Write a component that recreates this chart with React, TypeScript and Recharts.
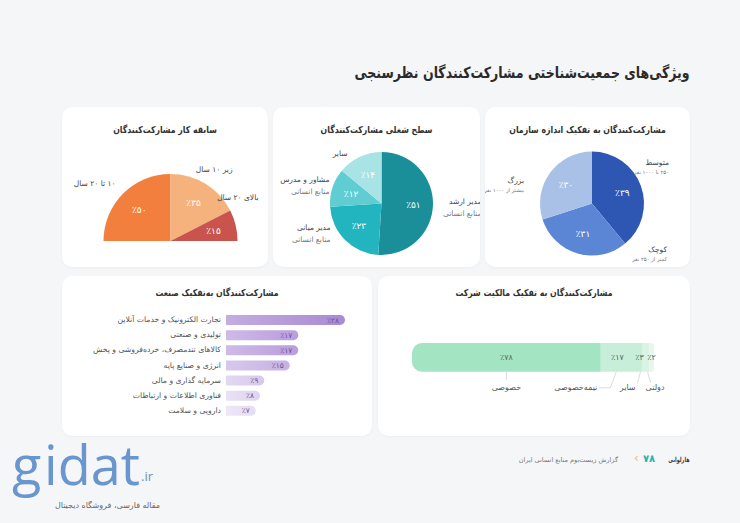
import { PieChart, Pie, Cell, BarChart, Bar, XAxis, YAxis, LabelList } from 'recharts';

const FONT = '"DejaVu Sans", sans-serif';

// سابقه کار
const experienceNames = [['۱۰ تا ۲۰ سال'], ['زیر ۱۰ سال'], ['بالای ۲۰ سال']];
const experienceValues = [50, 35, 15];
const experienceColors = ['#f27f3d', '#f5b27c', '#c9534d'];

// سطح شغلی
const levelNames = [['مدیر ارشد', 'منابع انسانی'], ['مدیر میانی', 'منابع انسانی'], ['مشاور و مدرس', 'منابع انسانی'], ['سایر']];
const levelValues = [51, 23, 12, 14];
const levelColors = ['#1a8f99', '#22b5bf', '#5fcdd1', '#a8e3e5'];

// اندازه سازمان
const sizeNames = [['متوسط', '۲۵۰ تا ۱۰۰۰ نفر'], ['کوچک', 'کمتر از ۲۵۰ نفر'], ['بزرگ', 'بیشتر از ۱۰۰۰ نفر']];
const sizeValues = [39, 31, 30];
const sizeColors = ['#2e56b3', '#5b86d6', '#a9c1e7'];

// صنعت
const industryNames = [
  'تجارت الکترونیک و خدمات آنلاین',
  'تولیدی و صنعتی',
  'کالاهای تندمصرف، خرده‌فروشی و پخش',
  'انرژی و صنایع پایه',
  'سرمایه گذاری و مالی',
  'فناوری اطلاعات و ارتباطات',
  'دارویی و سلامت',
];
const industryValues = [28, 17, 17, 15, 9, 8, 7];
const industryColors = ['#a98ad3', '#b99ddd', '#b99ddd', '#c6b0e4', '#d7c8ed', '#dfd4f0', '#e5ddf3'];

// مالکیت
const ownershipNames = ['خصوصی', 'نیمه‌خصوصی', 'سایر', 'دولتی'];
const ownershipValues = [78, 17, 3, 2];
const ownershipColors = ['#a3e4c3', '#c7eed9', '#d9f4e5', '#e6f7ee'];

const fa = (n: number) => String(n).replace(/\d/g, (d) => '۰۱۲۳۴۵۶۷۸۹'[Number(d)]);
const pct = (n: number) => '٪' + fa(n);
const RAD = Math.PI / 180;

// label layout (offsets from pie centre to the right edge of the RTL text)
const experienceLabelPos: [number, number][] = [[-55, -58], [62, -72], [88, -44]];
const levelLabelPos: [number, number][] = [[100, -2], [-51, 24], [-52, -24], [-34, -50]];
const sizeLabelPos: [number, number][] = [[77, -41], [75, 46], [-68, -23]];

function makePieLabel(names: string[][], pos: [number, number][], sizes: number[], gap: number, ratio: number) {
  return (p: any) => {
    const { cx, cy, midAngle, outerRadius, index, value } = p;
    const r = outerRadius * ratio;
    const px = cx + r * Math.cos(-midAngle * RAD);
    const py = cy + r * Math.sin(-midAngle * RAD);
    const [ox, oy] = pos[index];
    return (
      <g>
        <text x={px} y={py} textAnchor="middle" dominantBaseline="central" fill="#fff" fontSize={9} fontFamily={FONT}>
          {pct(value)}
        </text>
        {names[index].map((t, k) => (
          <text
            key={k}
            x={cx + ox}
            y={cy + oy + k * gap}
            direction="rtl"
            textAnchor="start"
            dominantBaseline="central"
            fill={k === 0 ? '#444' : '#777'}
            fontSize={sizes[k]}
            fontFamily={FONT}
          >
            {t}
          </text>
        ))}
      </g>
    );
  };
}

const card = (left: number, top: number, width: number, height: number): React.CSSProperties => ({
  position: 'absolute',
  left,
  top,
  width,
  height,
  background: '#fff',
  borderRadius: 10,
  boxShadow: '0 1px 3px rgba(0,0,0,0.04)',
});

function CardTitle({ text, top }: { text: string; top: number }) {
  return (
    <div
      style={{
        position: 'absolute',
        left: 0,
        right: 0,
        top,
        textAlign: 'center',
        direction: 'rtl',
        fontSize: 9.5,
        fontWeight: 'bold',
        color: '#333',
        lineHeight: '14px',
        transform: 'scaleX(0.82)',
        transformOrigin: 'center center',
        zIndex: 2,
      }}
    >
      {text}
    </div>
  );
}

// ownership label layout, relative to segment centre
const ownershipLayout = [
  { pctDx: 0, line: [[0, 0], [0, 8]], nameDx: 0, side: 'middle' },
  { pctDx: -4, line: [[-5, 0], [-11, 16], [-22, 16]], nameDx: -24, side: 'right' },
  { pctDx: -6, line: [[-5, 0], [-8, 11]], nameDx: -10, side: 'right' },
  { pctDx: 0, line: [[-4, 0], [-1, 11]], nameDx: -6, side: 'left' },
];

function ownershipLabel(i: number) {
  return (p: any) => {
    const { x, y, width, height, value } = p;
    const c = x + width / 2;
    const lay = ownershipLayout[i];
    const bottom = y + height;
    const pts = lay.line.map(([dx, dy]) => `${c + dx},${bottom + dy}`).join(' ');
    const anchor = lay.side === 'middle' ? 'middle' : lay.side === 'right' ? 'start' : 'end';
    return (
      <g>
        <text x={c + lay.pctDx} y={y + height / 2} textAnchor="middle" dominantBaseline="central" fill="#4f6b5e" fontSize={8} fontFamily={FONT}>
          {pct(value)}
        </text>
        <polyline points={pts} fill="none" stroke="#d2d2d2" strokeWidth={0.8} />
        <text x={c + lay.nameDx} y={bottom + 16} direction="rtl" textAnchor={anchor} dominantBaseline="central" fill="#555" fontSize={8} fontFamily={FONT}>
          {ownershipNames[i]}
        </text>
      </g>
    );
  };
}

function IndustryTick(props: any) {
  const { x, y, payload } = props;
  return (
    <text x={x} y={y} direction="rtl" textAnchor="start" dominantBaseline="central" fill="#555" fontSize={7.7} fontFamily={FONT}>
      {payload.value}
    </text>
  );
}

function IndustryValue(props: any) {
  const { x, y, width, height, value } = props;
  return (
    <text x={x + width - 6} y={y + height / 2} textAnchor="end" dominantBaseline="central" fill="#6b5599" fontSize={7.5} fontFamily={FONT}>
      {pct(value)}
    </text>
  );
}

export default function App() {
  const experienceData = experienceNames.map((n, i) => ({ name: n[0], value: experienceValues[i] }));
  const levelData = levelNames.map((n, i) => ({ name: n[0], value: levelValues[i] }));
  const sizeData = sizeNames.map((n, i) => ({ name: n[0], value: sizeValues[i] }));
  const industryData = industryNames.map((n, i) => ({ name: n, value: industryValues[i] }));
  const ownershipRow: Record<string, number | string> = { name: 'مالکیت' };
  ownershipValues.forEach((v, i) => (ownershipRow[`s${i}`] = v));

  return (
    <div
      style={{
        position: 'absolute',
        left: 0,
        top: 0,
        width: 740,
        height: 523,
        overflow: 'hidden',
        background: '#f5f6f8',
        fontFamily: FONT,
      }}
    >
      <div
        style={{
          position: 'absolute',
          right: 50,
          top: 62,
          direction: 'rtl',
          fontSize: 15.5,
          fontWeight: 'bold',
          color: '#2b2b2b',
          lineHeight: '22px',
          whiteSpace: 'nowrap',
          transform: 'scaleX(0.81)',
          transformOrigin: 'right center',
        }}
      >
        ویژگی‌های جمعیت‌شناختی مشارکت‌کنندگان نظرسنجی
      </div>

      {/* سابقه کار */}
      <div style={card(62, 107, 206, 160)}>
        <CardTitle text="سابقه کار مشارکت‌کنندگان" top={16} />
        <div style={{ position: 'absolute', left: 0, top: 0 }}>
          <PieChart width={206} height={160}>
            <Pie
              data={experienceData}
              dataKey="value"
              cx={103.5}
              cy={129}
              outerRadius={67}
              startAngle={180}
              endAngle={0}
              stroke="none"
              labelLine={false}
              label={makePieLabel(experienceNames, experienceLabelPos, [7.5], 12, 0.66)}
              isAnimationActive={false}
            >
              {experienceData.map((_, i) => (
                <Cell key={i} fill={experienceColors[i]} />
              ))}
            </Pie>
          </PieChart>
        </div>
      </div>

      {/* سطح شغلی */}
      <div style={card(273, 107, 207, 160)}>
        <CardTitle text="سطح شغلی مشارکت‌کنندگان" top={16} />
        <div style={{ position: 'absolute', left: 0, top: 0 }}>
          <PieChart width={207} height={160}>
            <Pie
              data={levelData}
              dataKey="value"
              cx={103.5}
              cy={91.5}
              outerRadius={51.5}
              startAngle={90}
              endAngle={-270}
              stroke="none"
              labelLine={false}
              label={makePieLabel(levelNames, levelLabelPos, [7.5, 7.5], 12, 0.62)}
              isAnimationActive={false}
            >
              {levelData.map((_, i) => (
                <Cell key={i} fill={levelColors[i]} />
              ))}
            </Pie>
          </PieChart>
        </div>
      </div>

      {/* اندازه سازمان */}
      <div style={card(485, 107, 205, 160)}>
        <CardTitle text="مشارکت‌کنندگان به تفکیک اندازه سازمان" top={16} />
        <div style={{ position: 'absolute', left: 0, top: 0 }}>
          <PieChart width={205} height={160}>
            <Pie
              data={sizeData}
              dataKey="value"
              cx={102}
              cy={91.5}
              outerRadius={52}
              startAngle={90}
              endAngle={-270}
              stroke="none"
              labelLine={false}
              label={makePieLabel(sizeNames, sizeLabelPos, [7.5, 5.3], 9.5, 0.62)}
              isAnimationActive={false}
            >
              {sizeData.map((_, i) => (
                <Cell key={i} fill={sizeColors[i]} />
              ))}
            </Pie>
          </PieChart>
        </div>
      </div>

      {/* صنعت */}
      <div style={card(62, 276, 310, 160)}>
        <CardTitle text="مشارکت‌کنندگان به‌تفکیک صنعت" top={10} />
        <div style={{ position: 'absolute', left: 0, top: 36 }}>
          <BarChart width={300} height={106} data={industryData} layout="vertical" margin={{ top: 0, right: 0, bottom: 0, left: 0 }}>
            <defs>
              {industryColors.map((c, i) => (
                <linearGradient key={i} id={`ind${i}`} x1="0" y1="0" x2="1" y2="0">
                  <stop offset="0%" stopColor={c} stopOpacity={0.7} />
                  <stop offset="100%" stopColor={c} stopOpacity={1} />
                </linearGradient>
              ))}
            </defs>
            <XAxis type="number" domain={[0, 32]} hide />
            <YAxis
              type="category"
              dataKey="name"
              width={164}
              axisLine={false}
              tickLine={false}
              tickSize={0}
              tickMargin={5}
              tick={<IndustryTick />}
              interval={0}
            />
            <Bar dataKey="value" barSize={10} radius={[0, 5, 5, 0]} isAnimationActive={false}>
              {industryData.map((_, i) => (
                <Cell key={i} fill={`url(#ind${i})`} />
              ))}
              <LabelList dataKey="value" content={<IndustryValue />} />
            </Bar>
          </BarChart>
        </div>
      </div>

      {/* مالکیت */}
      <div style={card(378, 276, 312, 160)}>
        <CardTitle text="مشارکت‌کنندگان به تفکیک مالکیت شرکت" top={10} />
        <div style={{ position: 'absolute', left: 22, top: 59 }}>
          <BarChart width={290} height={70} data={[ownershipRow]} layout="vertical" margin={{ top: 6, right: 36, bottom: 32, left: 12 }}>
            <XAxis type="number" domain={[0, 100]} hide />
            <YAxis type="category" dataKey="name" hide />
            {ownershipValues.map((_, i) => (
              <Bar
                key={i}
                dataKey={`s${i}`}
                stackId="own"
                barSize={32}
                fill={ownershipColors[i]}
                radius={i === 0 ? [10, 0, 0, 10] : i === ownershipValues.length - 1 ? [0, 4, 4, 0] : 0}
                isAnimationActive={false}
              >
                <LabelList dataKey={`s${i}`} content={ownershipLabel(i)} />
              </Bar>
            ))}
          </BarChart>
        </div>
      </div>

      {/* footer */}
      <div
        style={{
          position: 'absolute',
          right: 50,
          top: 454,
          fontSize: 7,
          fontWeight: 'bold',
          color: '#3a3a3a',
          lineHeight: '12px',
          direction: 'rtl',
          whiteSpace: 'nowrap',
          transform: 'scaleX(0.7)',
          transformOrigin: 'right center',
        }}
      >
        هارلوانی
      </div>
      <div style={{ position: 'absolute', left: 643, top: 453, fontSize: 10, fontWeight: 'bold', color: '#2bb3ad', lineHeight: '12px' }}>
        ۷۸
      </div>
      <div style={{ position: 'absolute', left: 634, top: 451, fontSize: 12, color: '#f5b27c', lineHeight: '14px' }}>‹</div>
      <div style={{ position: 'absolute', right: 122, top: 454, fontSize: 6.5, color: '#777', lineHeight: '12px', direction: 'rtl', whiteSpace: 'nowrap' }}>
        گزارش زیست‌بوم منابع انسانی ایران
      </div>

      {/* watermark */}
      <div style={{ position: 'absolute', left: 12, top: 436, width: 34, fontFamily: '"Open Sans", sans-serif', fontSize: 54, color: '#5b8ccc', lineHeight: '56px', opacity: 0.9 }}>
        g
      </div>
      <div style={{ position: 'absolute', left: 44, top: 436, fontFamily: '"Open Sans", sans-serif', fontSize: 54, color: '#5b8ccc', lineHeight: '56px', opacity: 0.9 }}>
        idat
      </div>
      <div style={{ position: 'absolute', left: 141, top: 468, fontFamily: '"Open Sans", sans-serif', fontSize: 13, color: '#6d8fb8', lineHeight: '16px' }}>
        .ir
      </div>
      <div style={{ position: 'absolute', left: 48, top: 501, fontSize: 8, color: '#666', lineHeight: '10px', direction: 'rtl', width: 112, textAlign: 'right', whiteSpace: 'nowrap' }}>
        مقاله فارسی، فروشگاه دیجیتال
      </div>
    </div>
  );
}
